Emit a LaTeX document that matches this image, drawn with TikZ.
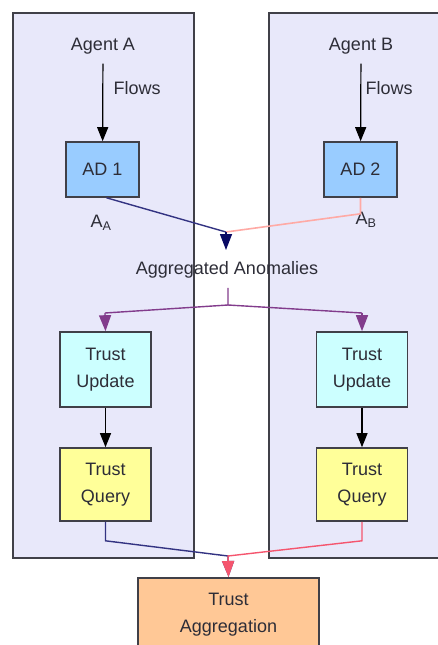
\documentclass[tikz,border=0pt]{standalone}
\usepackage{fontspec}
\setmainfont{Liberation Sans}
\usetikzlibrary{arrows.meta,positioning}
\definecolor{lav}{RGB}{232,232,250}
\definecolor{edge}{RGB}{64,64,72}
\definecolor{adblue}{RGB}{153,204,255}
\definecolor{updcyan}{RGB}{204,255,255}
\definecolor{qryyel}{RGB}{255,255,153}
\definecolor{aggora}{RGB}{255,200,150}
\definecolor{navy}{RGB}{51,51,130}
\definecolor{darknavy}{RGB}{10,10,100}
\definecolor{salmon}{RGB}{255,170,165}
\definecolor{purp}{RGB}{130,60,140}
\definecolor{redpink}{RGB}{245,85,110}
\definecolor{txt}{RGB}{45,45,55}
\begin{document}
\begin{tikzpicture}[x=1pt,y=-1pt,
  every node/.style={text=txt,font=\fontsize{18}{27}\selectfont},
  agentbox/.style={draw=edge,line width=1.6pt,fill=lav},
  blk/.style={draw=edge,line width=1.6pt,align=center,inner sep=0pt},
  adbox/.style={blk,fill=adblue,minimum width=73pt,minimum height=55pt},
  updbox/.style={blk,fill=updcyan,minimum width=91pt,minimum height=75pt},
  qrybox/.style={blk,fill=qryyel,minimum width=91pt,minimum height=73pt},
  aggbox/.style={blk,fill=aggora,minimum width=181pt,minimum height=73pt},
  flow/.style={line width=1.2pt,-{Triangle[width=11pt,length=14pt]}},
  tip/.style={-{Triangle[width=12pt,length=16pt]}}]
\useasboundingbox (0,0) rectangle (438,645);
% agent panels
\draw[agentbox] (13,13) rectangle (194,558);
\draw[agentbox] (269,13) rectangle (446,558);
% agent A
\node (agA) at (103,46) {Agent A};
\node[adbox] (ad1) at (102.5,169.5) {AD 1};
\draw[flow,shorten <=6pt] (agA) -- (ad1);
\node[right] (flA) at (110,88) {Flows};
\node (aA) at (101,223) {A\textsubscript{A}};
\node[updbox] (tu1) at (105.5,369.5) {Trust\\Update};
\node[qrybox] (tq1) at (105.5,484.5) {Trust\\Query};
\draw[flow] (tu1) -- (tq1);
% agent B
\node (agB) at (361,46) {Agent B};
\node[adbox] (ad2) at (360.5,169.5) {AD 2};
\draw[flow,shorten <=6pt] (agB) -- (ad2);
\node[right] (flB) at (362,88) {Flows};
\node (aB) at (366,220) {A\textsubscript{B}};
\node[updbox] (tu2) at (362,369.5) {Trust\\Update};
\node[qrybox] (tq2) at (362,484.5) {Trust\\Query};
\draw[flow] (tu2) -- (tq2);
% anomalies
\coordinate (mrg) at (226,232);
\coordinate (mrgtip) at (226,250);
\node (anom) at (227,270) {Aggregated Anomalies};
\draw[navy,line width=1.4pt] (ad1.south) ++(4,0) -- (mrg);
\draw[salmon,line width=1.6pt] (ad2.south) -- ++(0,16) -- (mrg);
\draw[darknavy,line width=1.4pt,tip] (mrg) -- (mrgtip);
\coordinate (spl) at (228,305);
\coordinate (splA) at (105,313);
\coordinate (splB) at (362,313);
\draw[purp,line width=1.4pt] (anom.south) ++(1,6) -- (spl) -- (splA);
\draw[purp,line width=1.4pt] (spl) -- (splB);
\draw[purp,line width=1.4pt,tip] (splA) -- (tu1.north);
\draw[purp,line width=1.4pt,tip] (splB) -- (tu2.north);
% aggregation
\node[aggbox,anchor=north] (tagg) at (228.5,577) {Trust\\Aggregation};
\coordinate (jn) at (228,556);
\draw[navy,line width=1.4pt,tip] (tq1.south) -- ++(0,19) -- (jn) -- (tagg.north);
\draw[redpink,line width=1.4pt,tip] (tq2.south) -- ++(0,19) -- (jn) -- (tagg.north);
\end{tikzpicture}
\end{document}
